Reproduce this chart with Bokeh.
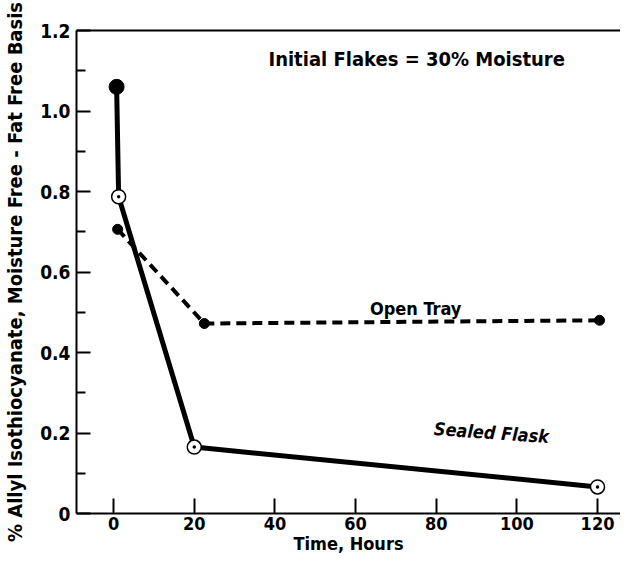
from bokeh.plotting import figure
from bokeh.models import FixedTicker, LinearAxis, Label, Range1d
from bokeh.embed import file_html
from bokeh.resources import INLINE

# Data
sealed_x = [0.75, 1.25, 20, 120]
sealed_y = [1.06, 0.787, 0.165, 0.066]
open_x = [1.0, 22.5, 120.5]
open_y = [0.706, 0.472, 0.48]
x_ticks = [0, 20, 40, 60, 80, 100, 120]
y_ticks = [0, 0.2, 0.4, 0.6, 0.8, 1.0, 1.2]
y_minor = [0.1, 0.3, 0.5, 0.7, 0.9, 1.1]
y_tick_labels = {0: "0", 0.2: "0.2", 0.4: "0.4", 0.6: "0.6", 0.8: "0.8", 1.0: "1.0", 1.2: "1.2"}
x_title = "Time, Hours"
y_title = "% Allyl Isothiocyanate, Moisture Free - Fat Free Basis"

FONT = "'DejaVu Sans Condensed', 'DejaVu Sans'"

p = figure(width=620, height=558, x_range=Range1d(-9.2, 125.7), y_range=Range1d(0, 1.2),
           output_backend="svg", toolbar_location=None,
           min_border_left=76, min_border_right=0, min_border_top=30, min_border_bottom=45)
p.outline_line_color = None
p.grid.visible = False
p.background_fill_color = "white"
p.border_fill_color = "white"

# axes
xa = p.xaxis[0]
xa.ticker = FixedTicker(ticks=x_ticks)
xa.axis_line_width = 2
xa.axis_line_color = "black"
xa.major_tick_in = 15
xa.major_tick_out = 0
xa.major_tick_line_width = 2
xa.minor_tick_line_color = None
xa.major_label_text_font = FONT
xa.major_label_text_font_style = "bold"
xa.major_label_text_font_size = "18px"
xa.major_label_text_color = "black"
xa.major_label_standoff = 3
xa.axis_label = x_title
xa.axis_label_text_font = FONT
xa.axis_label_text_font_style = "bold"
xa.axis_label_text_font_size = "18px"
xa.axis_label_text_color = "black"
xa.axis_label_standoff = 0

ya = p.yaxis[0]
ya.ticker = FixedTicker(ticks=y_ticks, minor_ticks=y_minor)
ya.major_label_overrides = y_tick_labels
ya.axis_line_width = 2
ya.axis_line_color = "black"
ya.major_tick_in = 14
ya.major_tick_out = 0
ya.major_tick_line_width = 2
ya.minor_tick_in = 9
ya.minor_tick_out = 0
ya.minor_tick_line_width = 2
ya.major_label_text_font = FONT
ya.major_label_text_font_style = "bold"
ya.major_label_text_font_size = "19px"
ya.major_label_text_color = "black"
ya.major_label_standoff = 6
ya.axis_label = y_title
ya.axis_label_text_font = FONT
ya.axis_label_text_font_style = "bold"
ya.axis_label_text_font_size = "20px"
ya.axis_label_text_color = "black"
ya.axis_label_standoff = 10

top = LinearAxis(ticker=FixedTicker(ticks=[]), axis_line_width=2,
                 major_tick_line_color=None, minor_tick_line_color=None,
                 major_label_text_font_size="0px")
p.add_layout(top, "above")

# series
p.line(open_x, open_y, line_color="black", line_width=4, line_dash="10 6")
p.scatter(open_x, open_y, marker="circle", size=10, fill_color="black", line_color="black")

p.line(sealed_x, sealed_y, line_color="black", line_width=5)
p.scatter(sealed_x[:1], sealed_y[:1], marker="circle", size=15, fill_color="black", line_color="black")
p.scatter(sealed_x[1:], sealed_y[1:], marker="circle_dot", size=14, fill_color="white",
          line_color="black", line_width=1.5)

# annotations
p.add_layout(Label(x=38.4, y=1.130, text="Initial Flakes = 30% Moisture", text_font=FONT,
                   text_font_style="bold", text_font_size="20px", text_baseline="middle",
                   text_align="left", text_color="black"))
p.add_layout(Label(x=74.9, y=0.509, text="Open Tray", text_font=FONT,
                   text_font_style="bold", text_font_size="18px", text_baseline="middle",
                   text_align="center", text_color="black"))
p.add_layout(Label(x=93.7, y=0.201, text="Sealed Flask", text_font=FONT,
                   text_font_style="bold italic", text_font_size="18px", text_baseline="middle",
                   text_align="center", angle=-0.07, text_color="black"))

open("out.html", "w").write(file_html(p, INLINE))
